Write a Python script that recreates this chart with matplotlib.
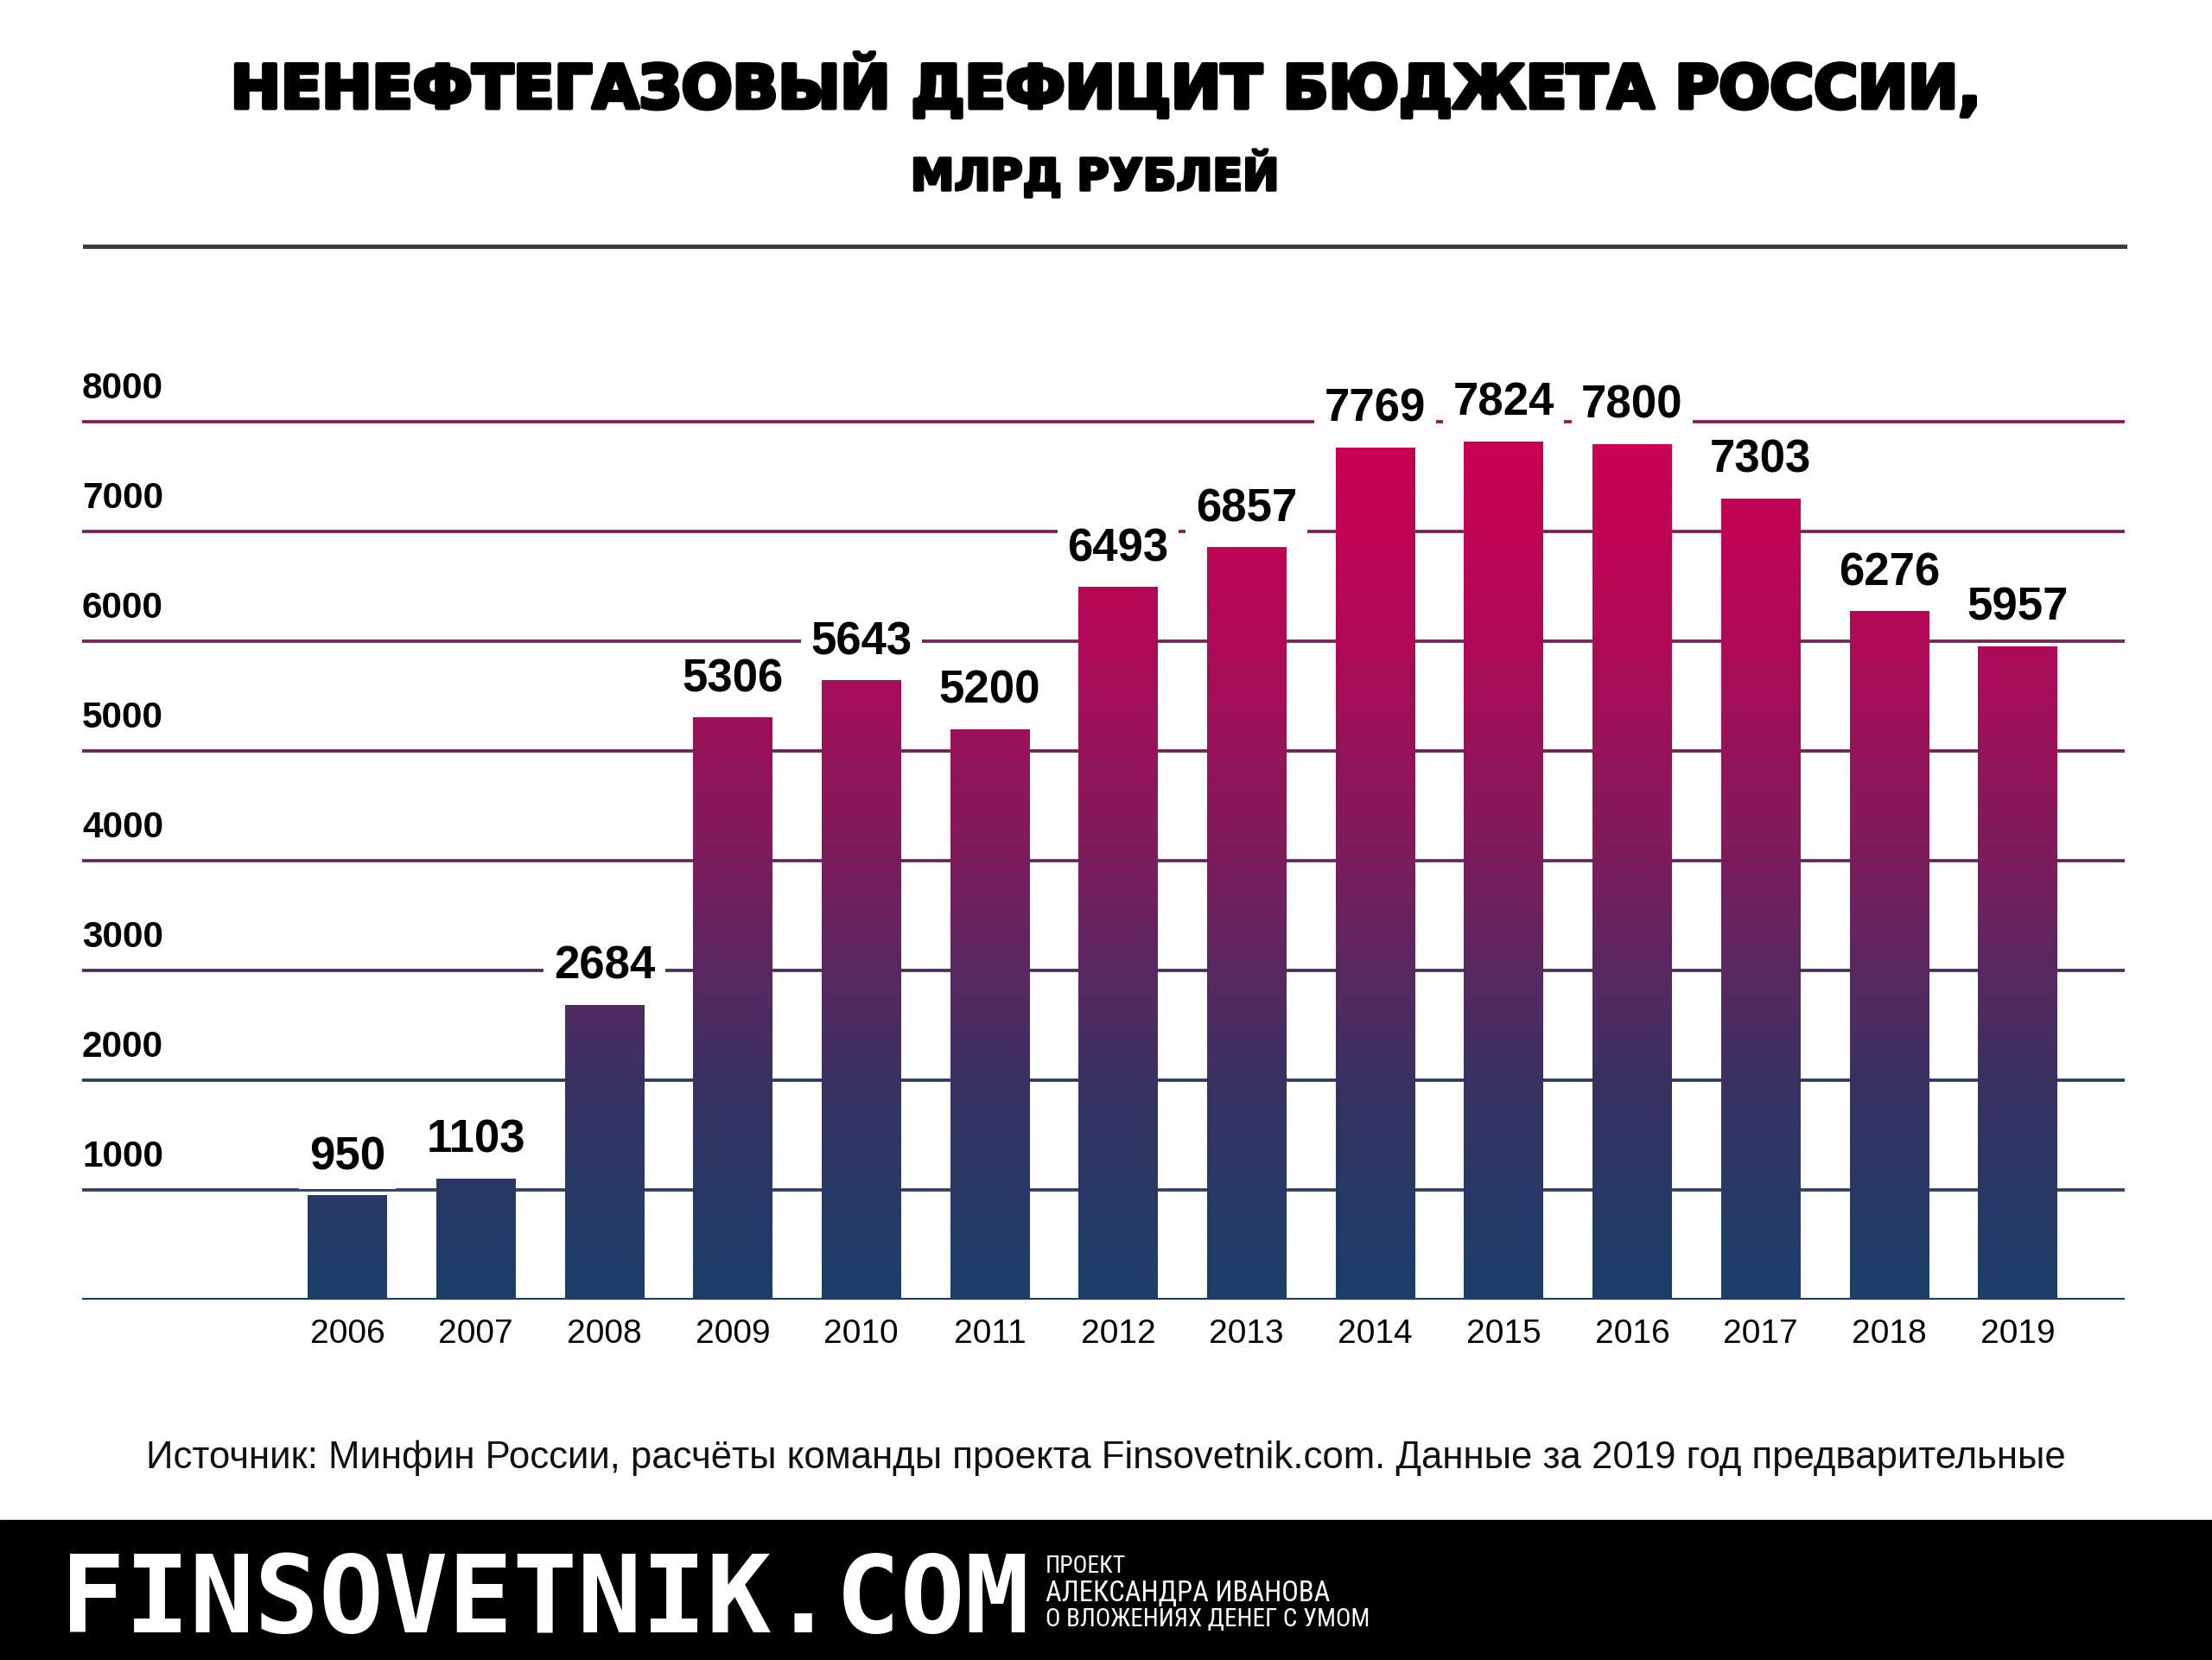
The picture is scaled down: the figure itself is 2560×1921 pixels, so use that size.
import numpy as np
import matplotlib
matplotlib.use('Agg')
import matplotlib.pyplot as plt
from matplotlib import font_manager
from matplotlib.colors import LinearSegmentedColormap
import matplotlib.transforms as mtransforms
import matplotlib.patheffects as pe

years = ['2006', '2007', '2008', '2009', '2010', '2011', '2012',
         '2013', '2014', '2015', '2016', '2017', '2018', '2019']
values = [950, 1103, 2684, 5306, 5643, 5200, 6493,
          6857, 7769, 7824, 7800, 7303, 6276, 5957]
y_ticks = [1000, 2000, 3000, 4000, 5000, 6000, 7000, 8000]

title = 'НЕНЕФТЕГАЗОВЫЙ ДЕФИЦИТ БЮДЖЕТА РОССИИ,'
subtitle = 'МЛРД РУБЛЕЙ'
source = ('Источник: Минфин России, расчёты команды проекта Finsovetnik.com. '
          'Данные за 2019 год предварительные')
brand = 'FINSOVETNIK.COM'
tagline = ['ПРОЕКТ', 'АЛЕКСАНДРА ИВАНОВА', 'О ВЛОЖЕНИЯХ ДЕНЕГ С УМОМ']

installed = {f.name for f in font_manager.fontManager.ttflist}


def pick(*names):
    for n in names:
        if n in installed:
            return n
    return 'DejaVu Sans'


arial = pick('Liberation Sans', 'Arimo', 'DejaVu Sans')
narrow = pick('Liberation Sans Narrow', 'Roboto Condensed', 'DejaVu Sans')

grid_colors = ['#2c4060', '#2e3a58', '#4a2d5a', '#5c2a5a',
               '#6a2258', '#7a2058', '#7c1f57', '#8b1a55']
cmap = LinearSegmentedColormap.from_list('navy_crimson', [
    (0.0, '#1a3f69'), (0.25, '#393262'), (0.4, '#5f2660'),
    (0.5, '#7c1d5c'), (0.75, '#b00a56'), (1.0, '#cc0052')])

W, H = 2560, 1921
fig = plt.figure(figsize=(W / 100, H / 100), dpi=100)
fig.patch.set_facecolor('white')

# chart area: 0 line at y=1503.7 px, 8000 line at y=488 px
px_per_unit = (1503.7 - 488.2) / 8000
ymax = 8500
top_px = 1503.7 - ymax * px_per_unit
ax = fig.add_axes([95 / W, 1 - 1503.7 / H, (2459 - 95) / W, (1503.7 - top_px) / H])
ax.axis('off')

x = np.arange(len(years))

# gridlines
ax.axhline(0, color='#1c3d63', lw=3.0, zorder=1)
for t, c in zip(y_ticks, grid_colors):
    ax.axhline(t, color=c, lw=2.7, zorder=1)

# tick labels sitting above each gridline
trans = mtransforms.blended_transform_factory(ax.transAxes, ax.transData)
for t in y_ticks:
    ax.annotate(str(t), xy=(0, t), xycoords=trans, xytext=(0, 19.5),
                textcoords='offset points', ha='left', va='baseline',
                fontsize=30.5, fontweight='bold', family=arial, color='black')

# bars with vertical gradient
bars = ax.bar(x, values, width=0.615, color='none', edgecolor='none', zorder=2)
grad = np.linspace(0, 1, 512).reshape(-1, 1)
for b in bars:
    x0 = b.get_x()
    im = ax.imshow(grad, cmap=cmap, aspect='auto', origin='lower',
                   extent=[x0, x0 + b.get_width(), 0, 8000], zorder=2)
    im.set_clip_path(b)

ax.set_xlim(-2.064, 13.834)
ax.set_ylim(0, ymax)

# value labels
for xi, v in zip(x, values):
    ax.annotate(str(v), xy=(xi, v), xytext=(0, 21.6), textcoords='offset points',
                ha='center', va='baseline', fontsize=38, fontweight='bold',
                family=arial, color='black', zorder=4,
                bbox=dict(boxstyle='square,pad=0.22', fc='white', ec='none'))

# year labels
for xi, yr in zip(x, years):
    ax.annotate(yr, xy=(xi, 0), xytext=(0, -36.5), textcoords='offset points',
                ha='center', va='baseline', fontsize=28, family=arial, color='black')

# title, fitted to the reference width
heavy = [pe.withStroke(linewidth=3.5, foreground='black')]
t1 = fig.text(0.5, 1 - 125 / H, title, ha='center', va='baseline',
              fontsize=56, fontweight='bold', family='DejaVu Sans', color='black')
renderer = fig.canvas.get_renderer()
w = t1.get_window_extent(renderer).width
t1.set_fontsize(56 * 2024 / w)
t1.set_path_effects(heavy)
fig.text(0.495, 1 - 220 / H, subtitle, ha='center', va='baseline',
         fontsize=36.5, fontweight='bold', family='DejaVu Sans', color='black',
         path_effects=[pe.withStroke(linewidth=2.5, foreground='black')])
fig.add_artist(plt.Line2D([98 / W, 2459 / W], [1 - 285 / H, 1 - 285 / H],
                          color='#3c3c3a', lw=3.6))

# source note
fig.text(0.5, 1 - 1699 / H, source, ha='center', va='baseline',
         fontsize=31.5, family=arial, color='#111111')

# footer band
fig.add_artist(plt.Rectangle((0, 0), 1, 1 - 1759 / H, transform=fig.transFigure,
                             color='black', zorder=0))
fig.text(70 / W, 1 - 1889 / H, brand, ha='left', va='baseline', fontsize=89.5,
         fontweight='bold', family='DejaVu Sans Mono', color='white')
for txt, base, size in zip(tagline, [1820, 1853, 1882], [20, 23.5, 21]):
    fig.text(1210 / W, 1 - base / H, txt, ha='left', va='baseline',
             fontsize=size, family=narrow, stretch='condensed', color='white')

fig.savefig('out.png', dpi=100, facecolor='white')
